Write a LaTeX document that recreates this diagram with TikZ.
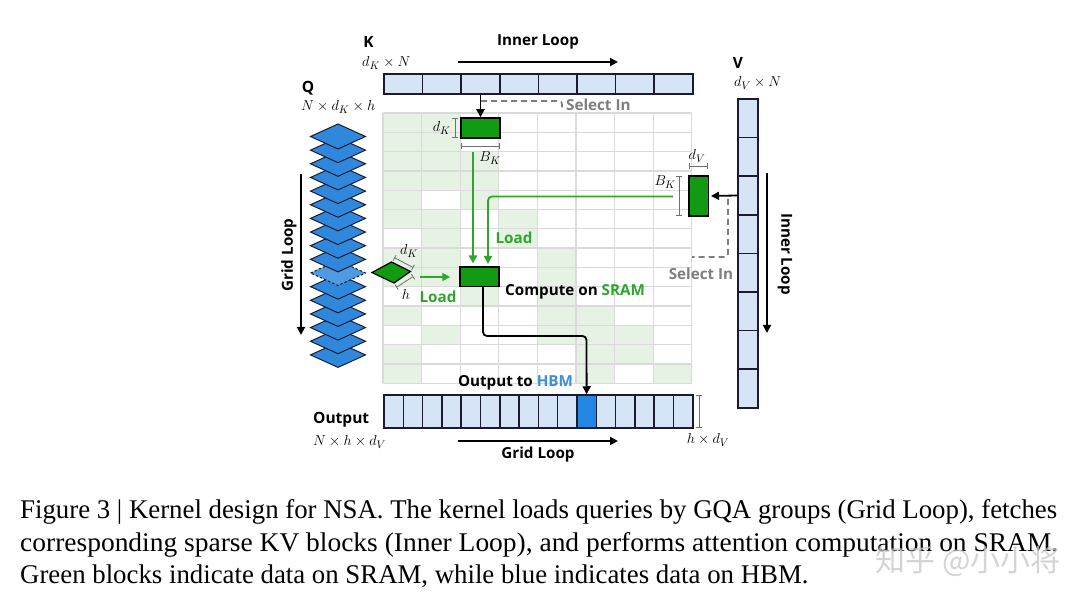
\documentclass[tikz,border=0pt]{standalone}
\usepackage{fontspec}
\usepackage{graphicx}
\usetikzlibrary{arrows.meta,calc}
\newfontfamily\sansb{Open Sans}
\newfontfamily\capfont{Liberation Serif}
\newfontfamily\cjk{Noto Sans CJK SC}
\definecolor{dk}{HTML}{1B1B2F}
\definecolor{lb}{HTML}{D5E5F7}
\definecolor{qb}{HTML}{3088DC}
\definecolor{ob}{HTML}{2386E2}
\definecolor{gb}{HTML}{129B12}
\definecolor{gt}{HTML}{2FA52F}
\definecolor{gl}{HTML}{E6F3E4}
\definecolor{gridc}{HTML}{DADADA}
\definecolor{sel}{HTML}{7E7E7E}
\definecolor{hbm}{HTML}{3B8FDB}
\definecolor{dimc}{HTML}{707070}
\newsavebox{\capbox}
\begin{document}
\begin{tikzpicture}[x=1pt,y=-1pt,
  cellb/.style={draw=dk, fill=lb, line width=1.5pt, inner sep=0pt},
  blk/.style={draw=black, fill=gb, line width=1.5pt, inner sep=0pt},
  gridln/.style={draw=gridc, line width=1.3pt},
  lbl/.style={font=\sansb\bfseries\fontsize{15.2}{17}\selectfont, inner sep=0pt},
  big/.style={font=\sansb\bfseries\fontsize{15.5}{17}\selectfont, inner sep=0pt},
  mth/.style={font=\fontsize{15}{17}\selectfont, inner sep=0pt},
  barr/.style={draw=black, line width=1.8pt, -{Triangle[length=8pt,width=8pt]}},
  garr/.style={draw=gt, line width=1.8pt, -{Triangle[length=8pt,width=8pt]}},
  seld/.style={draw=sel, line width=1.6pt, dash pattern=on 6pt off 4pt},
  dimln/.style={draw=dimc, line width=0.8pt, {Bar[width=6pt]}-{Bar[width=6pt]}},
  qdia/.style={draw=dk, fill=qb, line width=1pt, line join=miter},
]
\fill[white] (0,0) rectangle (1080,604);
\useasboundingbox (0,0) rectangle (1080,604);
% ---------- grid ----------
\def\gx{383}\def\gy{113}\def\cw{38.6}\def\ch{19.3}
\foreach \c/\r in {0/0,0/1,0/2,0/3,0/4,0/5,0/7,0/8,0/10,0/12,0/13,
                   1/0,1/1,1/2,1/3,1/5,1/6,1/7,1/8,1/11,
                   2/2,2/3,2/4,2/9,
                   3/5,3/6,
                   4/7,4/8,4/9,4/10,4/11,
                   5/10,5/11,5/12,5/13,
                   6/11,6/12,
                   7/13}
  \fill[gl] (\gx+\c*\cw,\gy+\r*\ch) rectangle ++(\cw,\ch);
\foreach \c in {0,...,8} \draw[gridln] (\gx+\c*\cw,\gy) -- ++(0,14*\ch);
\foreach \r in {0,...,14} \draw[gridln] (\gx,\gy+\r*\ch) -- ++(8*\cw,0);
% ---------- K bar ----------
\foreach \i in {1,...,8}
  \node[cellb, minimum width=38.6pt, minimum height=20pt] (k\i) at ({384+(\i-0.5)*38.6},84) {};
\node[big] (klab) at (368.5,42) {K};
\node[mth, anchor=west] (kdim) at (362,63) {$d_K\times N$};
\node[lbl] (inl) at (538,42) {Inner Loop};
\coordinate (inla) at (458,62);
\coordinate (inlb) at (618,62);
\draw[barr] (inla) -- (inlb);
% ---------- V bar ----------
\foreach \i in {1,...,8}
  \node[cellb, minimum width=20pt, minimum height=38.6pt] (v\i) at (748,{99+(\i-0.5)*38.6}) {};
\node[big] (vlab) at (738,63) {V};
\node[mth, anchor=west] (vdim) at (734,83) {$d_V\times N$};
\coordinate (vla) at (767,173);
\coordinate (vlb) at (767,333);
\draw[barr] (vla) -- (vlb);
\node[lbl, rotate=-90] (vinl) at (785,254) {Inner Loop};
% ---------- Output bar ----------
\foreach \i in {1,...,16}
  \node[cellb, minimum width=19.3pt, minimum height=33pt] (o\i) at ({384+(\i-0.5)*19.3},411.5) {};
\node[cellb, fill=ob, minimum width=19.3pt, minimum height=33pt] (o11) at ({384+10.5*19.3},411.5) {};
\node[big, anchor=west] (olab) at (313,420) {Output};
\node[mth, anchor=west] (odim) at (313,442) {$N\times h\times d_V$};
\coordinate (gla) at (458,441);
\coordinate (glb) at (618,441);
\draw[barr] (gla) -- (glb);
\node[lbl] (glab) at (538,455) {Grid Loop};
\coordinate (hda) at (699,395);
\coordinate (hdb) at (699,428);
\draw[dimln] (hda) -- (hdb);
\node[mth] (hdl) at (708,440) {$h\times d_V$};
% ---------- Q stack ----------
\node[big] (qlab) at (308,88) {Q};
\node[mth, anchor=west] (qdim) at (301,107) {$N\times d_K\times h$};
\foreach \i in {16,...,0}{
  \pgfmathsetmacro\yy{136.5+13.65*\i}
  \ifnum\i=10
    \draw[qdia, fill=qb!85, dash pattern=on 2.5pt off 2pt] (310.5,\yy) -- (338,\yy-12.5) -- (365.5,\yy) -- (338,\yy+12.5) -- cycle;
  \else
    \draw[qdia] (310.5,\yy) -- (338,\yy-12.5) -- (365.5,\yy) -- (338,\yy+12.5) -- cycle;
  \fi
}
\coordinate (qla) at (301,174);
\coordinate (qlb) at (301,335);
\draw[barr] (qla) -- (qlb);
\node[lbl, rotate=90] (qgl) at (289,255) {Grid Loop};
% green query diamond
\draw[draw=black, fill=gb, line width=1.2pt] (372,272.5) -- (391.5,262) -- (410.5,271.5) -- (394,283) -- cycle;
\coordinate (dka) at (394.3,257.6);
\coordinate (dkb) at (413.3,267.6);
\draw[dimln] (dka) -- (dkb);
\node[mth] (dkl) at (409,251) {$d_K$};
\coordinate (ha) at (413.3,276.4);
\coordinate (hb) at (396.3,287.4);
\draw[dimln] (ha) -- (hb);
\node[mth] (hl) at (406,295) {$h$};
% ---------- blocks ----------
\node[blk, minimum width=39pt, minimum height=20pt] (kblk) at (480.5,128) {};
\node[blk, minimum width=19.5pt, minimum height=40pt] (vblk) at (698.5,196) {};
\node[blk, minimum width=39pt, minimum height=19.5pt] (comp) at (479.5,277) {};
% K block dims
\coordinate (kda) at (455,118);
\coordinate (kdb) at (455,138);
\draw[dimln] (kda) -- (kdb);
\node[mth, anchor=east] (kdl) at (451,128) {$d_K$};
\coordinate (kba) at (461,146.5);
\coordinate (kbb) at (500,146.5);
\draw[dimln] (kba) -- (kbb);
\node[mth] (kbl) at (490,158) {$B_K$};
% V block dims
\coordinate (vda) at (689,166);
\coordinate (vdb) at (708,166);
\draw[dimln] (vda) -- (vdb);
\node[mth] (vdl) at (697,156) {$d_V$};
\coordinate (vba) at (679,176);
\coordinate (vbb) at (679,216);
\draw[dimln] (vba) -- (vbb);
\node[mth, anchor=east] (vbl) at (676,182) {$B_K$};
% ---------- select arrows ----------
\draw[seld, rounded corners=3pt] (481,101) -- (562,101) -- (562,111);
\draw[barr] (k3.south) -- (kblk.north);
\node[lbl, text=sel, anchor=west] (selk) at (566,105) {Select In};
\draw[seld, rounded corners=3pt] (728,199) -- (728,257) -- (692,257);
\draw[barr, shorten >=2pt] (v3.west) -- (vblk.east);
\node[lbl, text=sel] (selv) at (701,274) {Select In};
% ---------- load arrows ----------
\coordinate (l1s) at (473,152);
\draw[garr, shorten >=3pt] (l1s) -- (l1s |- comp.north);
\coordinate (l2s) at (673,196.5);
\coordinate (l2e) at (488,267);
\draw[garr, rounded corners=4pt, shorten >=3pt] (l2s) -| (l2e);
\node[lbl, text=gt] (load1) at (514,238) {Load};
\coordinate (l3s) at (420,277);
\draw[garr, shorten >=9pt] (l3s) -- (comp.west);
\node[lbl, text=gt] (load2) at (438,297) {Load};
% ---------- compute / output ----------
\node[lbl, anchor=west] (ctext) at (505,292) {Compute on \textcolor{gt}{SRAM}};
\coordinate (oturn) at (586.5,336);
\draw[barr, rounded corners=4pt] (483,286.5) |- (oturn) -- (o11.north);
\node[lbl] (otext) at (515.5,383) {Output to \textcolor{hbm}{HBM}};
% ---------- caption ----------
\node[anchor=base west, inner sep=0pt] (cap1) at (20,518) {\sbox{\capbox}{\capfont\fontsize{27}{30}\selectfont Figure 3 | Kernel design for NSA. The kernel loads queries by GQA groups (Grid Loop), fetches}\pgfmathsetmacro\capsc{1037/\wd\capbox}\xdef\capscg{\capsc}\scalebox{\capsc}[1]{\usebox{\capbox}}};
\node[anchor=base west, inner sep=0pt] (cap2) at (20,551) {\resizebox{1038pt}{\height}{\capfont\fontsize{27}{30}\selectfont corresponding sparse KV blocks (Inner Loop), and performs attention computation on SRAM.}};
\node[anchor=base west, inner sep=0pt] (cap3) at (20,583) {\scalebox{\capscg}[1]{\capfont\fontsize{27}{30}\selectfont Green blocks indicate data on SRAM, while blue indicates data on HBM.}};
\node[text=gray!45, opacity=0.75, inner sep=0pt] (wm) at (968,561) {\cjk\fontsize{30}{30}\selectfont 知乎 @小小将};
\end{tikzpicture}
\end{document}
